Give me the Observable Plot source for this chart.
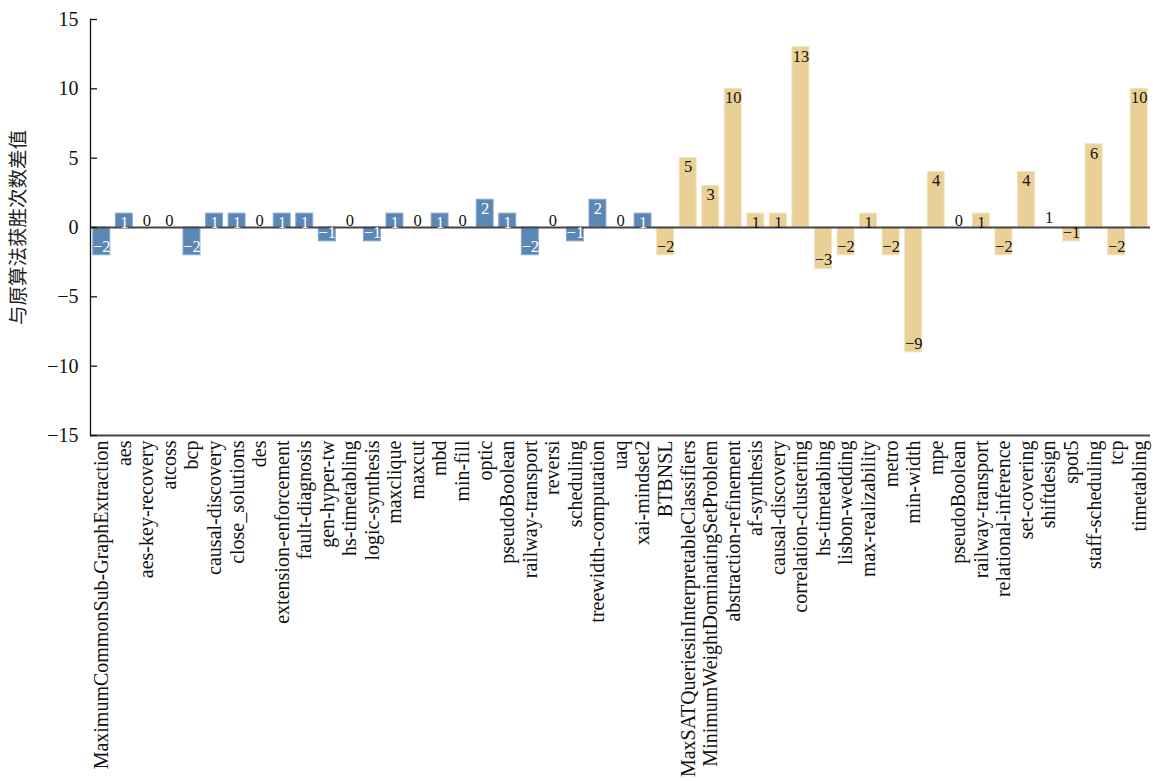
<!DOCTYPE html>
<html><head><meta charset="utf-8">
<script src="https://cdn.jsdelivr.net/npm/d3@7"></script>
<script src="https://cdn.jsdelivr.net/npm/@observablehq/plot@0.6"></script>
<style>
body{margin:0;background:#fff}
svg{font-family:"Liberation Serif","Times New Roman",serif}
</style>
</head><body><div id="chart"></div>
<script>
// Group A (blue)
const namesA = ["MaximumCommonSub-GraphExtraction","aes","aes-key-recovery","atcoss","bcp","causal-discovery","close_solutions","des","extension-enforcement","fault-diagnosis","gen-hyper-tw","hs-timetabling","logic-synthesis","maxclique","maxcut","mbd","min-fill","optic","pseudoBoolean","railway-transport","reversi","scheduling","treewidth-computation","uaq","xai-mindset2"];
const valuesA = [-2,1,0,0,-2,1,1,0,1,1,-1,0,-1,1,0,1,0,2,1,-2,0,-1,2,0,1];
// Group B (tan)
const namesB = ["BTBNSL","MaxSATQueriesinInterpretableClassifiers","MinimumWeightDominatingSetProblem","abstraction-refinement","af-synthesis","causal-discovery","correlation-clustering","hs-timetabling","lisbon-wedding","max-realizability","metro","min-width","mpe","pseudoBoolean","railway-transport","relational-inference","set-covering","shiftdesign","spot5","staff-scheduling","tcp","timetabling"];
const valuesB = [-2,5,3,10,1,1,13,-3,-2,1,-2,-9,4,0,1,-2,4,1,-1,6,-2,10];
// categories whose bar is not drawn in the original (label only)
const noBarB = ["shiftdesign"];
const yTicks = [-15,-10,-5,0,5,10,15];
const yLabel = "与原算法获胜次数差值";
const fillA = "#5b87b5", strokeA = "#86a7cc";
const fillB = "#e9d096", strokeB = "#f3e2bb";

const W = 1153, H = 781, mL = 90, mR = 3, mT = 19, mB = 346;
const data = [
  ...namesA.map((n,i)=>({key:"A"+i, name:n, value:valuesA[i], group:"A", bar:true})),
  ...namesB.map((n,i)=>({key:"B"+i, name:n, value:valuesB[i], group:"B", bar:!noBarB.includes(n)}))
];
const nameOf = new Map(data.map(d=>[d.key,d.name]));
const fmt = d3.format("d");
const labelFill = d => (d.group==="A" && d.value!==0) ? "#fff" : "#111";

const chart = Plot.plot({
  width: W, height: H,
  marginLeft: mL, marginRight: mR, marginTop: mT, marginBottom: mB,
  x: {type:"band", domain: data.map(d=>d.key), paddingInner: 0.25, paddingOuter: 0.125, round: false, axis: null},
  y: {domain: [-15, 15], axis: null},
  marks: [
    Plot.barY(data.filter(d=>d.bar), {x:"key", y:"value",
      fill: d=>d.group==="A"?fillA:fillB, stroke: d=>d.group==="A"?strokeA:strokeB, strokeWidth: 1}),
    Plot.ruleY([0], {stroke:"#444", strokeWidth: 2}),
    Plot.ruleY([-15], {stroke:"#444", strokeWidth: 2}),
    Plot.frame({anchor:"left", stroke:"#111", strokeWidth: 1.3}),
    Plot.ruleY(yTicks, {stroke:"#111", strokeWidth: 1.3, insetRight: W - mL - mR - 7}),
    Plot.axisY({ticks: yTicks, tickSize: 0, tickPadding: 12, fontSize: 20, fill:"#111", label: null}),
    Plot.axisX({tickSize: 0, tickRotate: -90, tickPadding: 5, fontSize: 20, fill:"#111",
      tickFormat: k => nameOf.get(k), label: null}),
    Plot.text(data.filter(d=>d.bar && d.value>0), {x:"key", y:"value", text:d=>fmt(d.value), dy: 9, fontSize: 16.5, fill: labelFill}),
    Plot.text(data.filter(d=>d.bar && d.value<0), {x:"key", y:"value", text:d=>fmt(d.value), dy: -9, fontSize: 16.5, fill: labelFill}),
    Plot.text(data.filter(d=>d.bar && d.value===0), {x:"key", y:"value", text:d=>fmt(d.value), dy: -7, fontSize: 16.5, fill: labelFill}),
    Plot.text(data.filter(d=>!d.bar), {x:"key", y: 0, text:d=>fmt(d.value), dy: -10, fontSize: 16.5, fill: labelFill}),
    Plot.text([yLabel], {frameAnchor:"left", textAnchor:"middle", dx: -72, rotate: -90, fontSize: 19.5, fill:"#222",
      fontFamily: "'Noto Sans CJK SC', sans-serif"})
  ]
});
document.getElementById("chart").appendChild(chart);
</script>
</body></html>
